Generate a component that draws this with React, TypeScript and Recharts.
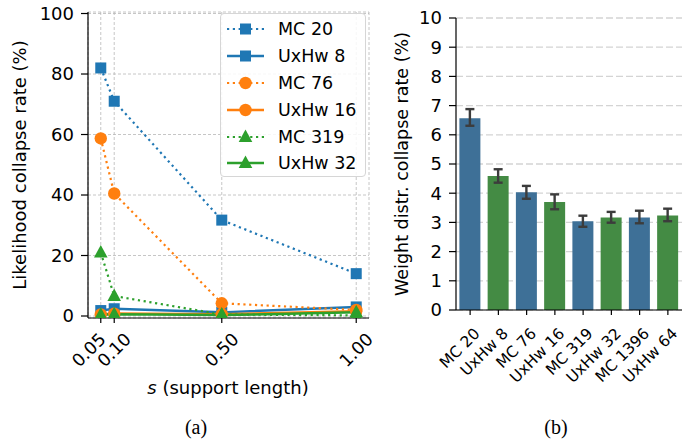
import React from 'react';
import {
  LineChart, Line, BarChart, Bar, Cell, ErrorBar, XAxis, YAxis, CartesianGrid, Legend,
} from 'recharts';

// ---------- Panel (a) data ----------
const sValues = [0.05, 0.1, 0.5, 1.0];
const mc20 = [82, 71, 31.7, 14];
const uxhw8 = [1.8, 2.4, 1.2, 3.0];
const mc76 = [58.7, 40.5, 4.2, 2.0];
const uxhw16 = [0.5, 0.8, 0.6, 1.6];
const mc319 = [21, 6.6, 0.5, 0.2];
const uxhw32 = [0.4, 0.6, 0.3, 1.2];
const sTicks = [0.05, 0.1, 0.5, 1.0];
const likelihoodTicks = [0, 20, 40, 60, 80, 100];

// ---------- Panel (b) data ----------
const barLabels = ['MC 20', 'UxHw 8', 'MC 76', 'UxHw 16', 'MC 319', 'UxHw 32', 'MC 1396', 'UxHw 64'];
const barValues = [6.57, 4.59, 4.03, 3.7, 3.04, 3.17, 3.17, 3.24];
const barUpper = [6.88, 4.82, 4.25, 3.96, 3.23, 3.36, 3.4, 3.47];
const barLower = [6.31, 4.36, 3.81, 3.45, 2.85, 2.99, 2.97, 3.04];
const weightTicks = [0, 1, 2, 3, 4, 5, 6, 7, 8, 9, 10];

const BLUE = '#1f77b4';
const ORANGE = '#ff7f0e';
const GREEN = '#2ca02c';
const BAR_BLUE = '#3e7097';
const BAR_GREEN = '#448b44';

type MarkerShape = 'square' | 'circle' | 'triangle';
const seriesDefs: { key: string; name: string; values: number[]; color: string; dotted: boolean; marker: MarkerShape }[] = [
  { key: 'mc20', name: 'MC 20', values: mc20, color: BLUE, dotted: true, marker: 'square' },
  { key: 'uxhw8', name: 'UxHw 8', values: uxhw8, color: BLUE, dotted: false, marker: 'square' },
  { key: 'mc76', name: 'MC 76', values: mc76, color: ORANGE, dotted: true, marker: 'circle' },
  { key: 'uxhw16', name: 'UxHw 16', values: uxhw16, color: ORANGE, dotted: false, marker: 'circle' },
  { key: 'mc319', name: 'MC 319', values: mc319, color: GREEN, dotted: true, marker: 'triangle' },
  { key: 'uxhw32', name: 'UxHw 32', values: uxhw32, color: GREEN, dotted: false, marker: 'triangle' },
];

const lineData = sValues.map((s, i) => {
  const row: Record<string, number> = { s };
  seriesDefs.forEach((d) => { row[d.key] = d.values[i]; });
  return row;
});

const barData = barLabels.map((label, i) => ({
  label,
  value: barValues[i],
  err: [barValues[i] - barLower[i], barUpper[i] - barValues[i]],
  kind: label.startsWith('MC') ? 'MC' : 'UxHw',
}));

const DOT_DASH = '2.2 3.6';
const FONT = '"DejaVu Sans", sans-serif';

function Marker({ shape, cx, cy, color }: { shape: MarkerShape; cx: number; cy: number; color: string }) {
  if (shape === 'square') return <rect x={cx - 5.5} y={cy - 5.5} width={11} height={11} fill={color} />;
  if (shape === 'circle') return <circle cx={cx} cy={cy} r={6.2} fill={color} />;
  return <polygon points={`${cx},${cy - 7.5} ${cx - 6.8},${cy + 5} ${cx + 6.8},${cy + 5}`} fill={color} />;
}

function LegendBox() {
  return (
    <div
      style={{
        width: 146, height: 164, boxSizing: 'border-box', border: '1px solid #d6d6d6', borderRadius: 4,
        background: 'rgba(255,255,255,0.85)', paddingTop: 2, fontFamily: FONT,
      }}
    >
      {seriesDefs.map((d) => (
        <div key={d.key} style={{ display: 'flex', alignItems: 'center', height: 26.8 }}>
          <svg width={50} height={20} style={{ marginLeft: 3 }}>
            <line x1={3} y1={10} x2={40} y2={10} stroke={d.color} strokeWidth={d.dotted ? 2.2 : 2.5}
              strokeDasharray={d.dotted ? DOT_DASH : undefined} />
            <Marker shape={d.marker} cx={21.5} cy={10} color={d.color} />
          </svg>
          <span style={{ fontSize: 17.5, color: '#000', marginLeft: 4, whiteSpace: 'nowrap' }}>{d.name}</span>
        </div>
      ))}
    </div>
  );
}

function STick(props: any) {
  const { x, y, payload } = props;
  const v = Number(payload.value);
  const dx = v === 0.05 ? -12 : 0;
  return (
    <g transform={`translate(${x + dx},${y + 25})`}>
      <text transform="rotate(-45)" textAnchor="middle" dominantBaseline="central" fontSize={17.5} fill="#000">
        {v.toFixed(2)}
      </text>
    </g>
  );
}

function BarTick(props: any) {
  const { x, y, payload } = props;
  return (
    <g transform={`translate(${x + 7},${y + 14})`}>
      <text transform="rotate(-45)" textAnchor="end" dominantBaseline="central" fontSize={15.5} fill="#000">
        {payload.value}
      </text>
    </g>
  );
}

const spine = { stroke: '#000', strokeWidth: 1.2 };

export default function App() {
  return (
    <div style={{ position: 'absolute', left: 0, top: 0, width: 697, height: 443, background: '#fff', fontFamily: FONT }}>
      <div style={{ position: 'absolute', left: 0, top: 0 }}>
        <LineChart width={380} height={443} data={lineData} margin={{ top: 12, right: 11, left: 0, bottom: 95 }}>
          <CartesianGrid stroke="#b8b8b8" strokeDasharray="3 2" strokeWidth={0.8} />
          <XAxis dataKey="s" type="number" domain={[0.0025, 1.0475]} ticks={sTicks} allowDataOverflow
            interval={0} height={30} tickSize={5} tick={<STick />} axisLine={spine} tickLine={spine} />
          <YAxis type="number" domain={[-0.66, 100.5]} ticks={likelihoodTicks} allowDataOverflow interval={0}
            width={88} tickSize={7} tickMargin={7} tick={{ fill: '#000', fontSize: 18 }} axisLine={spine} tickLine={spine} />
          <XAxis xAxisId="top" orientation="top" dataKey="s" type="number" domain={[0.0025, 1.0475]}
            height={0} tick={false} tickLine={false} axisLine={spine} />
          <YAxis yAxisId="right" orientation="right" type="number" domain={[-0.66, 100.5]}
            width={0} tick={false} tickLine={false} axisLine={spine} />
          {seriesDefs.map((d) => (
            <Line key={d.key} dataKey={d.key} name={d.name} type="linear" stroke={d.color}
              strokeWidth={d.dotted ? 2.2 : 2.5} strokeDasharray={d.dotted ? DOT_DASH : undefined}
              isAnimationActive={false} activeDot={false}
              dot={(p: any) => <Marker key={`${d.key}-${p.index}`} shape={d.marker} cx={p.cx} cy={p.cy} color={d.color} />} />
          ))}
          <Legend layout="horizontal" verticalAlign="middle" align="center" content={() => <LegendBox />}
            wrapperStyle={{ left: 220, top: 13, width: 146, height: 164 }} />
        </LineChart>
      </div>
      <div style={{ position: 'absolute', left: 380, top: 0 }}>
        <BarChart width={317} height={443} data={barData} margin={{ top: 18, right: 15, left: 0, bottom: 33 }}
          barCategoryGap="12%">
          <CartesianGrid vertical={false} stroke="#d4d4d4" strokeDasharray="7 3" strokeWidth={1.3} />
          <XAxis dataKey="label" height={100} interval={0} tickSize={5} tick={<BarTick />} axisLine={spine} tickLine={spine} />
          <YAxis type="number" domain={[0, 10]} ticks={weightTicks} interval={0} width={76} tickSize={7} tickMargin={7}
            tick={{ fill: '#000', fontSize: 18 }} axisLine={spine} tickLine={spine} />
          <XAxis xAxisId="top" orientation="top" dataKey="label" height={0} tick={false} tickLine={false} axisLine={spine} />
          <YAxis yAxisId="right" orientation="right" type="number" domain={[0, 10]} width={0} tick={false}
            tickLine={false} axisLine={spine} />
          <Bar dataKey="value" isAnimationActive={false}>
            {barData.map((d, i) => (
              <Cell key={i} fill={d.kind === 'MC' ? BAR_BLUE : BAR_GREEN} />
            ))}
            <ErrorBar dataKey="err" direction="y" width={4.5} stroke="#3c3c3c" strokeWidth={2.4} />
          </Bar>
        </BarChart>
      </div>
      <svg width={697} height={443} style={{ position: 'absolute', left: 0, top: 0, pointerEvents: 'none' }}>
        <text transform="translate(19,165) rotate(-90)" textAnchor="middle" dominantBaseline="central" fontSize={18} fill="#000">
          Likelihood collapse rate (%)
        </text>
        <text transform="translate(402,164) rotate(-90)" textAnchor="middle" dominantBaseline="central" fontSize={17.5} fill="#000">
          Weight distr. collapse rate (%)
        </text>
        <text x={228} y={387} textAnchor="middle" dominantBaseline="central" fontSize={18} fill="#000">
          <tspan fontStyle="italic">s</tspan> (support length)
        </text>
        <text x={196} y={427} textAnchor="middle" dominantBaseline="central" fontSize={20}
          fontFamily='"Liberation Serif", serif' fill="#000">(a)</text>
        <text x={556} y={427} textAnchor="middle" dominantBaseline="central" fontSize={20}
          fontFamily='"Liberation Serif", serif' fill="#000">(b)</text>
      </svg>
    </div>
  );
}
